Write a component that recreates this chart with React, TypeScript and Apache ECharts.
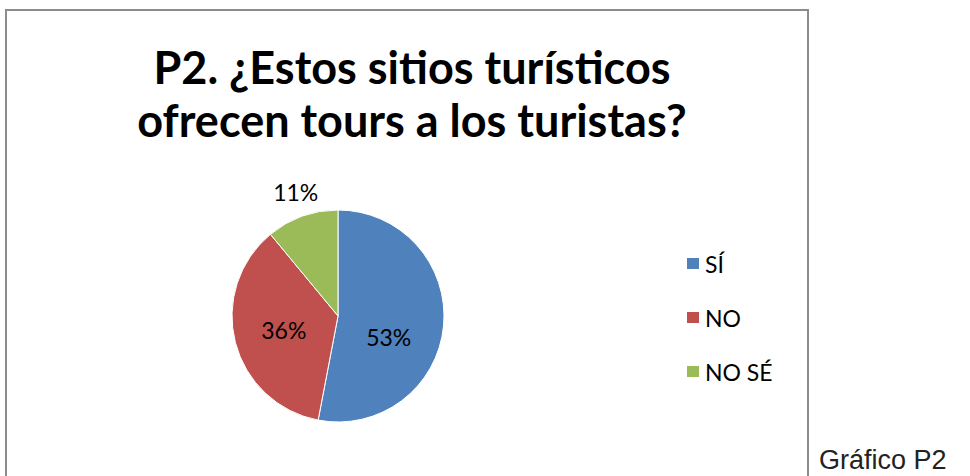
import React, { useEffect, useRef } from "react";
import * as echarts from "echarts";

const titleLines = ["P2. ¿Estos sitios turísticos", "ofrecen tours a los turistas?"];
const categories = ["SÍ", "NO", "NO SÉ"];
const values = [53, 36, 11];
const colors = ["#4F81BD", "#C0504D", "#9BBB59"];
const caption = "Gráfico P2";

export default function App() {
  const ref = useRef<HTMLDivElement>(null);
  useEffect(() => {
    document.body.style.margin = "0";
    const chart = echarts.init(ref.current!, null, { renderer: "svg" });
    const data = categories.map((name, i) => {
      const item: any = { name, value: values[i], itemStyle: { color: colors[i] } };
      if (i === 0) item.label = { offset: [-5, 16] };
      if (i === 2) {
        item.label = { position: "outside" };
        item.labelLine = { show: false, length: 26, length2: -30 };
      }
      return item;
    });
    chart.setOption({
      animation: false,
      backgroundColor: "#ffffff",
      title: {
        text: titleLines.join("\n"),
        left: 407,
        top: 35,
        textAlign: "center",
        textStyle: {
          fontFamily: "Lato",
          fontWeight: "bold",
          fontSize: 45,
          lineHeight: 53,
          color: "#000000",
        },
      },
      legend: {
        orient: "vertical",
        left: 685,
        top: 250,
        padding: 0,
        icon: "rect",
        itemWidth: 14,
        itemHeight: 13,
        itemGap: 27,
        data: categories,
        textStyle: { fontFamily: "Lato", fontSize: 23, color: "#000", lineHeight: 24, padding: [3, 0, 0, 0] },
        selectedMode: false,
      },
      graphic: [
        {
          type: "rect",
          shape: { x: 6, y: 10, width: 802, height: 480 },
          style: { fill: "none", stroke: "#8c8c8c", lineWidth: 2 },
          silent: true,
        },
        {
          type: "text",
          x: 819,
          y: 460,
          style: {
            text: caption,
            fontFamily: "Liberation Sans",
            fontSize: 27,
            fill: "#222222",
            verticalAlign: "middle",
          },
        },
      ],
      series: [
        {
          type: "pie",
          center: [338, 316],
          radius: 106,
          startAngle: 90,
          clockwise: true,
          data,
          itemStyle: { borderColor: "#ffffff", borderWidth: 1 },
          label: {
            show: true,
            position: "inside",
            formatter: (p: any) => p.value + "%",
            fontFamily: "Lato",
            fontSize: 23,
            color: "#000000",
          },
          labelLine: { show: false },
          emphasis: { disabled: true },
        },
      ],
    });
    return () => chart.dispose();
  }, []);
  return <div ref={ref} style={{ position: "fixed", left: 0, top: 0, width: 970, height: 476 }} />;
}
